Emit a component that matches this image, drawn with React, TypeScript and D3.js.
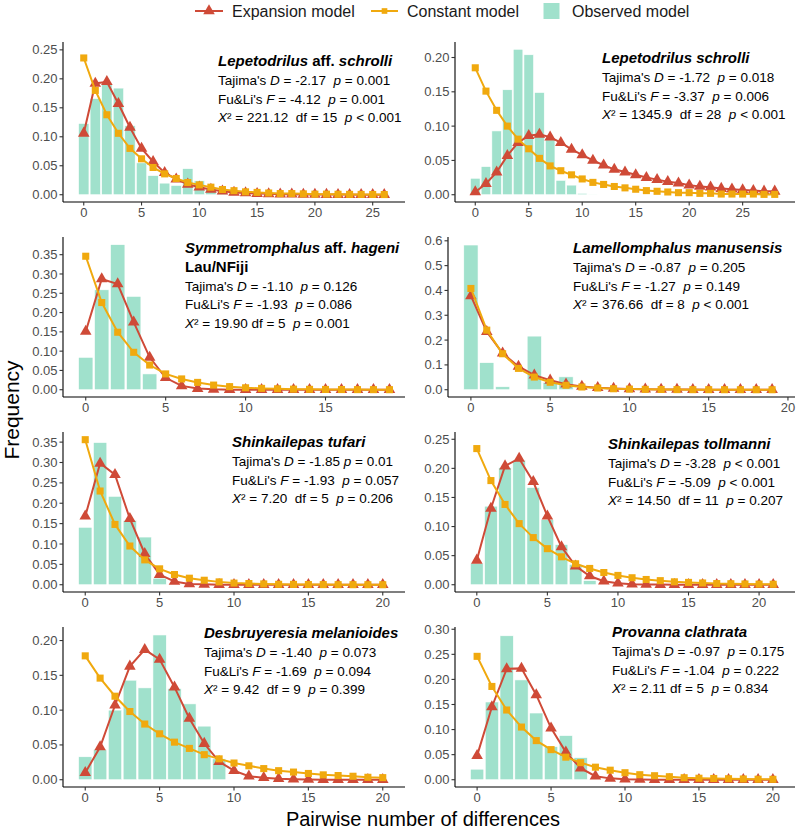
import * as d3 from "d3";

const FONT = "'Liberation Sans', Arial, Helvetica, sans-serif";
const RED = "#cf4a37";
const ORANGE = "#f0a90e";
const GREEN = "#a0e1cc";

// frequencies by pairwise number of differences (index = 0, 1, 2, ...)
const obs1 = [0.123, 0.166, 0.191, 0.184, 0.119, 0.055, 0.033, 0.02, 0.016, 0.045, 0.024, 0.01, 0.004];
const exp1 = [0.106, 0.192, 0.195, 0.157, 0.116, 0.08, 0.057, 0.038, 0.027, 0.018, 0.013, 0.009, 0.006, 0.004, 0.003, 0.002, 0.0015, 0.001, 0.0008, 0.0006, 0.0004, 0.0003, 0.0002, 0.0002, 0.0001, 0.0001, 0.0001];
const con1 = [0.236, 0.18, 0.138, 0.106, 0.08, 0.062, 0.047, 0.036, 0.028, 0.021, 0.017, 0.013, 0.009, 0.007, 0.005, 0.004, 0.003, 0.002, 0.002, 0.0015, 0.001, 0.001, 0.0008, 0.0006, 0.0005, 0.0004, 0.0003];

const obs2 = [0.024, 0.041, 0.093, 0.153, 0.212, 0.204, 0.149, 0.08, 0.021, 0.014, 0.002, 0.001];
const exp2 = [0.004, 0.016, 0.033, 0.057, 0.076, 0.086, 0.088, 0.084, 0.076, 0.066, 0.058, 0.05, 0.043, 0.037, 0.033, 0.029, 0.025, 0.022, 0.019, 0.017, 0.014, 0.012, 0.011, 0.009, 0.008, 0.007, 0.006, 0.005, 0.005];
const con2 = [0.185, 0.151, 0.123, 0.1, 0.081, 0.067, 0.053, 0.042, 0.035, 0.029, 0.023, 0.018, 0.015, 0.012, 0.01, 0.008, 0.006, 0.005, 0.004, 0.003, 0.003, 0.002, 0.002, 0.001, 0.001, 0.001, 0.001, 0.0005, 0.0005];

const obs3 = [0.084, 0.259, 0.376, 0.242, 0.041];
const exp3 = [0.151, 0.287, 0.274, 0.175, 0.084, 0.031, 0.01, 0.003, 0.001, 0, 0, 0, 0, 0, 0, 0, 0, 0, 0, 0];
const con3 = [0.346, 0.226, 0.149, 0.097, 0.064, 0.041, 0.028, 0.019, 0.012, 0.008, 0.005, 0.0035, 0.0025, 0.0015, 0.001, 0.0007, 0.0005, 0.0003, 0.0002, 0.0001];

const obs4 = [0.583, 0.109, 0.012, 0, 0.216, 0.03, 0.052];
const exp4 = [0.378, 0.234, 0.147, 0.094, 0.059, 0.038, 0.022, 0.013, 0.008, 0.005, 0.003, 0.002, 0.001, 0.001, 0.0005, 0.0003, 0.0002, 0.0001, 0.0001, 0];
const con4 = [0.408, 0.24, 0.145, 0.086, 0.051, 0.03, 0.018, 0.011, 0.007, 0.004, 0.0025, 0.0015, 0.001, 0.0005, 0.0003, 0.0002, 0.0001, 0.0001, 0, 0];

const obs5 = [0.141, 0.349, 0.217, 0.158, 0.117, 0.016];
const exp5 = [0.168, 0.298, 0.27, 0.162, 0.076, 0.025, 0.008, 0.002, 0.001, 0, 0, 0, 0, 0, 0, 0, 0, 0, 0, 0, 0];
const con5 = [0.356, 0.23, 0.148, 0.095, 0.061, 0.039, 0.025, 0.016, 0.011, 0.007, 0.004, 0.003, 0.002, 0.001, 0.0008, 0.0005, 0.0003, 0.0002, 0.0001, 0.0001, 0];

const obs6 = [0.037, 0.135, 0.201, 0.214, 0.167, 0.112, 0.069, 0.035, 0.007];
const exp6 = [0.042, 0.131, 0.204, 0.217, 0.177, 0.118, 0.065, 0.032, 0.015, 0.006, 0.0025, 0.001, 0.0004, 0.0002, 0.0001, 0, 0, 0, 0, 0, 0, 0];
const con6 = [0.234, 0.179, 0.138, 0.105, 0.081, 0.062, 0.048, 0.036, 0.028, 0.021, 0.016, 0.012, 0.009, 0.007, 0.005, 0.004, 0.003, 0.002, 0.0017, 0.0013, 0.001, 0.0008];

const obs7 = [0.033, 0.043, 0.1, 0.143, 0.132, 0.208, 0.131, 0.109, 0.077, 0.03];
const exp7 = [0.01, 0.047, 0.107, 0.163, 0.187, 0.173, 0.133, 0.088, 0.052, 0.026, 0.013, 0.005, 0.003, 0.0015, 0.0007, 0.0003, 0.0001, 0, 0, 0, 0];
const con7 = [0.178, 0.146, 0.12, 0.098, 0.08, 0.066, 0.054, 0.045, 0.036, 0.03, 0.024, 0.02, 0.016, 0.013, 0.011, 0.009, 0.007, 0.006, 0.005, 0.0035, 0.003];

const obs8 = [0.021, 0.155, 0.287, 0.199, 0.133, 0.066, 0.088, 0.044];
const exp8 = [0.048, 0.145, 0.221, 0.222, 0.169, 0.103, 0.055, 0.023, 0.007, 0.0027, 0.001, 0.0004, 0.0002, 0.0001, 0, 0, 0, 0, 0, 0, 0];
const con8 = [0.246, 0.186, 0.139, 0.105, 0.078, 0.06, 0.045, 0.034, 0.025, 0.019, 0.014, 0.01, 0.008, 0.006, 0.004, 0.003, 0.0025, 0.002, 0.0015, 0.001, 0.0008];

// *...* = italic
const titles = [
  ["*Lepetodrilus* aff. *schrolli*"],
  ["*Lepetodrilus schrolli*"],
  ["*Symmetromphalus* aff. *hageni*", "Lau/NFiji"],
  ["*Lamellomphalus manusensis*"],
  ["*Shinkailepas tufari*"],
  ["*Shinkailepas tollmanni*"],
  ["*Desbruyeresia melanioides*"],
  ["*Provanna clathrata*"],
];

const stats = [
  ["Tajima's *D* = -2.17  *p* = 0.001", "Fu&Li's *F* = -4.12  *p* = 0.001", "*X*² = 221.12  df = 15  *p* < 0.001"],
  ["Tajima's *D* = -1.72  *p* = 0.018", "Fu&Li's *F* = -3.37  *p* = 0.006", "*X*² = 1345.9  df = 28  *p* < 0.001"],
  ["Tajima's *D* = -1.10  *p* = 0.126", "Fu&Li's *F* = -1.93  *p* = 0.086", "*X*² = 19.90 df = 5  *p* = 0.001"],
  ["Tajima's *D* = -0.87  *p* = 0.205", "Fu&Li's *F* = -1.27  *p* = 0.149", "*X*² = 376.66  df = 8  *p* < 0.001"],
  ["Tajima's *D* = -1.85 *p* = 0.01", "Fu&Li's *F* = -1.93  *p* = 0.057", "*X*² = 7.20  df = 5  *p* = 0.206"],
  ["Tajima's *D* = -3.28  *p* < 0.001", "Fu&Li's *F* = -5.09  *p* < 0.001", "*X*² = 14.50  df = 11  *p* = 0.207"],
  ["Tajima's *D* = -1.40  *p* = 0.073", "Fu&Li's *F* = -1.69  *p* = 0.094", "*X*² = 9.42  df = 9  *p* = 0.399"],
  ["Tajima's *D* = -0.97  *p* = 0.175", "Fu&Li's *F* = -1.04  *p* = 0.222", "*X*² = 2.11 df = 5  *p* = 0.834"],
];

const legendLabels = ["Expansion model", "Constant model", "Observed model"];

const series = [
  [obs1, exp1, con1], [obs2, exp2, con2], [obs3, exp3, con3], [obs4, exp4, con4],
  [obs5, exp5, con5], [obs6, exp6, con6], [obs7, exp7, con7], [obs8, exp8, con8],
];

// layout per panel
const panels = [
  { yMax: 0.251, yStep: 0.05, dec: 2, tx: 155, ty: 24, barsToEnd: true },
  { yMax: 0.212, yStep: 0.05, dec: 2, tx: 147, ty: 21, barsToEnd: true },
  { yMax: 0.377, yStep: 0.05, dec: 2, tx: 122, ty: 16, barsToEnd: false },
  { yMax: 0.586, yStep: 0.1, dec: 1, tx: 125, ty: 16, barsToEnd: true },
  { yMax: 0.357, yStep: 0.05, dec: 2, tx: 169, ty: 15, barsToEnd: true },
  { yMax: 0.25, yStep: 0.05, dec: 2, tx: 153, ty: 17, barsToEnd: true },
  { yMax: 0.209, yStep: 0.05, dec: 2, tx: 141, ty: 11, barsToEnd: true },
  { yMax: 0.29, yStep: 0.05, dec: 2, tx: 157, ty: 10, barsToEnd: true },
];

function parts(s: string) {
  return s.split("*").map((t, i) => ({ t, i: i % 2 === 1 })).filter((p) => p.t.length);
}

function RichText({ x, y, s, size, bold }: any) {
  return (
    <text x={x} y={y} fontSize={size} fontWeight={bold ? "bold" : "normal"} fill="#000" style={{ whiteSpace: "pre" }}>
      {parts(s).map((p, k) => (
        <tspan key={k} fontStyle={p.i ? "italic" : "normal"}>{p.t}</tspan>
      ))}
    </text>
  );
}

const triangle = d3.symbol(d3.symbolTriangle, 58)()!;
const square = d3.symbol(d3.symbolSquare, 50)()!;

function Panel({ idx }: { idx: number }) {
  const cfg = panels[idx];
  const [obs, exp, con] = series[idx];
  const col = idx % 2;
  const row = Math.floor(idx / 2);
  const left = col === 0 ? 63 : cfg.dec === 1 ? 448 : 455;
  const right = col === 0 ? 405 : 795;
  const top = 42 + row * 195;
  const bottom = top + 160;

  const n = exp.length - 1;
  const lo = -0.45;
  const hi = cfg.barsToEnd ? n + 0.45 : n;
  const pad = (hi - lo) * 0.05;
  const x = d3.scaleLinear().domain([lo - pad, hi + pad]).range([left, right]);
  const y = d3.scaleLinear().domain([-0.05 * cfg.yMax, 1.05 * cfg.yMax]).range([bottom, top]);
  const yTicks = d3.range(0, y.domain()[1] + 1e-9, cfg.yStep);
  const xTicks = d3.range(0, x.domain()[1] + 1e-9, 5);
  const fmt = d3.format(cfg.dec === 1 ? ".1f" : ".2f");
  const line = d3.line<number>().x((_, i) => x(i)).y((d) => y(d));
  const bw = x(0.45) - x(-0.45);

  const ttl = titles[idx];
  const lines = stats[idx];
  const tx = left + cfg.tx;
  const ty = top + cfg.ty;
  const gap = 18.8;

  return (
    <g>
      {obs.map((v, i) => (
        <rect key={i} x={x(i) - bw / 2} y={y(v)} width={bw} height={Math.max(0, y(0) - y(v))}
          fill={GREEN} stroke="#fff" strokeWidth={0.6} />
      ))}
      <path d={line(exp)!} fill="none" stroke={RED} strokeWidth={2} />
      {exp.map((v, i) => (
        <path key={i} d={triangle} transform={`translate(${x(i)},${y(v)})`} fill={RED} />
      ))}
      <path d={line(con)!} fill="none" stroke={ORANGE} strokeWidth={2} />
      {con.map((v, i) => (
        <path key={i} d={square} transform={`translate(${x(i)},${y(v)})`} fill={ORANGE} />
      ))}

      <line x1={left} x2={left} y1={top} y2={bottom} stroke="#000" strokeWidth={1.1} />
      <line x1={left} x2={right} y1={bottom} y2={bottom} stroke="#000" strokeWidth={1.1} />
      {yTicks.map((t) => (
        <g key={t}>
          <line x1={left - 3.5} x2={left} y1={y(t)} y2={y(t)} stroke="#333" strokeWidth={1.1} />
          <text x={left - 5.5} y={y(t)} dy="0.35em" textAnchor="end" fontSize={13} fill="#4d4d4d">{fmt(t)}</text>
        </g>
      ))}
      {xTicks.map((t) => (
        <g key={t}>
          <line x1={x(t)} x2={x(t)} y1={bottom} y2={bottom + 3.5} stroke="#333" strokeWidth={1.1} />
          <text x={x(t)} y={bottom + 15} textAnchor="middle" fontSize={13} fill="#4d4d4d">{t}</text>
        </g>
      ))}

      {ttl.map((s, k) => (
        <RichText key={"t" + k} x={tx} y={ty + k * gap} s={s} size={15} bold />
      ))}
      {lines.map((s, k) => (
        <RichText key={"s" + k} x={tx} y={ty + (ttl.length + k) * gap} s={s} size={13.5} />
      ))}
    </g>
  );
}

export default function App() {
  return (
    <svg width={800} height={832} style={{ position: "absolute", left: 0, top: 0, background: "#fff" }} fontFamily={FONT}>
      <rect width={800} height={832} fill="#fff" />
      {/* legend */}
      <g>
        <line x1={195} x2={223} y1={11} y2={11} stroke={RED} strokeWidth={2} />
        <path d={triangle} transform="translate(209,11)" fill={RED} />
        <text x={232} y={17} fontSize={16} fill="#1a1a1a">{legendLabels[0]}</text>
        <line x1={371} x2={398} y1={11} y2={11} stroke={ORANGE} strokeWidth={2} />
        <path d={square} transform="translate(384.5,11) scale(0.8)" fill={ORANGE} />
        <text x={407} y={17} fontSize={16} fill="#1a1a1a">{legendLabels[1]}</text>
        <rect x={543} y={2.5} width={17} height={17} fill={GREEN} stroke="#fff" />
        <text x={572} y={17} fontSize={16} fill="#1a1a1a">{legendLabels[2]}</text>
      </g>
      {panels.map((_, i) => (
        <Panel key={i} idx={i} />
      ))}
      <text transform="translate(19,410) rotate(-90)" textAnchor="middle" fontSize={21} fill="#000">Frequency</text>
      <text x={423} y={826} textAnchor="middle" fontSize={20} fill="#000">Pairwise number of differences</text>
    </svg>
  );
}
